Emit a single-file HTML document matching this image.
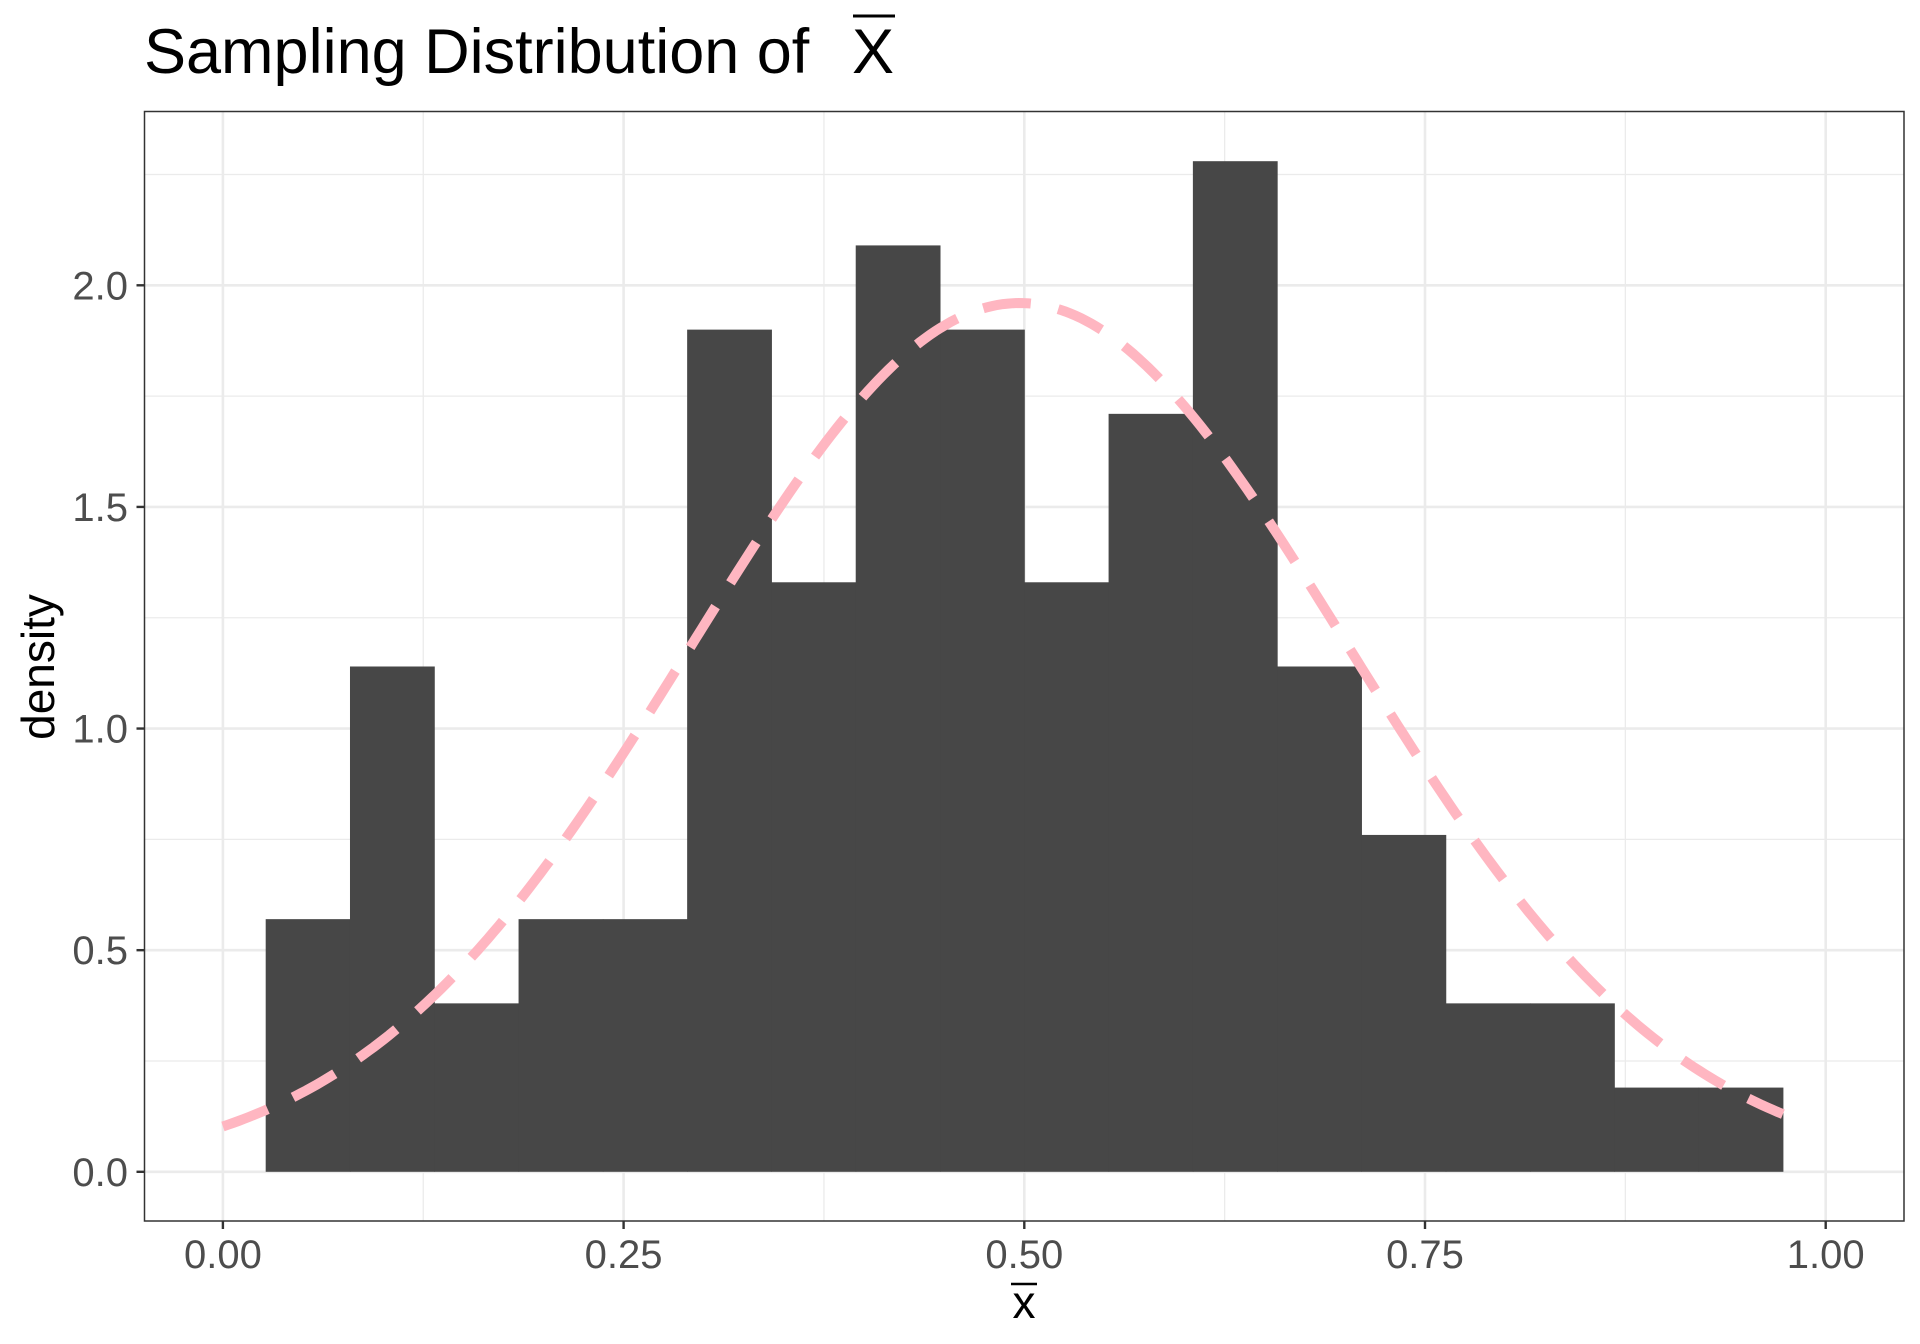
<!DOCTYPE html>
<html><head><meta charset="utf-8"><style>
html,body{margin:0;padding:0;background:#fff;}
svg{display:block;font-family:"Liberation Sans",Arial,sans-serif;}
</style></head><body>
<svg id="s" width="1920" height="1344" viewBox="0 0 1920 1344" xmlns="http://www.w3.org/2000/svg">
<rect width="1920" height="1344" fill="#fff"/>
<g id="grid"></g>
<g id="bars" fill="#474747"></g>
<path id="curve" fill="none" stroke="#FFB6C1" stroke-width="10" stroke-dasharray="48 28"/>
<rect x="144.5" y="111.5" width="1759.5" height="1109.5" fill="none" stroke="#333" stroke-width="1.5"/>
<g id="ticks" stroke="#333" stroke-width="2.4"></g>
<g id="labels" fill="#4D4D4D" font-size="40"></g>
<text x="144" y="73" font-size="63" fill="#000">Sampling Distribution of </text>
<text x="852" y="73" font-size="63" fill="#000">X</text>
<line x1="853" y1="16" x2="895" y2="16" stroke="#000" stroke-width="3"/>
<text x="1024" y="1318" font-size="46" fill="#000" text-anchor="middle">x</text>
<line x1="1011" y1="1284" x2="1037" y2="1284" stroke="#000" stroke-width="2.5"/>
<text transform="translate(54,667) rotate(-90)" font-size="46" fill="#000" text-anchor="middle">density</text>
</svg>
<script>
var X=function(v){return 222.9+v*1602.8;},Y=function(v){return 1171.8-v*443.25;};
var ns="http://www.w3.org/2000/svg";
function el(p,t,a){var e=document.createElementNS(ns,t);for(var k in a)e.setAttribute(k,a[k]);p.appendChild(e);return e;}
var g=document.getElementById("grid");
[0.125,0.375,0.625,0.875].forEach(function(v){el(g,"line",{x1:X(v),x2:X(v),y1:111.5,y2:1221,stroke:"#EBEBEB","stroke-width":1.3});});
[0.25,0.75,1.25,1.75,2.25].forEach(function(v){el(g,"line",{y1:Y(v),y2:Y(v),x1:144.5,x2:1904,stroke:"#EBEBEB","stroke-width":1.3});});
[0,0.25,0.5,0.75,1].forEach(function(v){el(g,"line",{x1:X(v),x2:X(v),y1:111.5,y2:1221,stroke:"#EBEBEB","stroke-width":2.6});});
[0,0.5,1,1.5,2].forEach(function(v){el(g,"line",{y1:Y(v),y2:Y(v),x1:144.5,x2:1904,stroke:"#EBEBEB","stroke-width":2.6});});
var h=[0.57,1.14,0.38,0.57,0.57,1.90,1.33,2.09,1.90,1.33,1.71,2.28,1.14,0.76,0.38,0.38,0.19,0.19];
var b=document.getElementById("bars"),w=(0.9733-0.0267)/18;
h.forEach(function(v,i){var a=X(0.0267+i*w),c=X(0.0267+(i+1)*w);el(b,"rect",{x:a,y:Y(v),width:c-a+0.5,height:Y(0)-Y(v)});});
var d="";for(var i=0;i<=300;i++){var x=0.9733*i/300;var y=1.96*Math.exp(-Math.pow(x-0.497,2)/(2*0.2045*0.2045));d+=(i?"L":"M")+X(x).toFixed(1)+","+Y(y).toFixed(1);}
document.getElementById("curve").setAttribute("d",d);
var t=document.getElementById("ticks"),l=document.getElementById("labels");
["0.00","0.25","0.50","0.75","1.00"].forEach(function(s,i){var x=X(i*0.25);el(t,"line",{x1:x,x2:x,y1:1221,y2:1229});var e=el(l,"text",{x:x,y:1268,"text-anchor":"middle"});e.textContent=s;});
["0.0","0.5","1.0","1.5","2.0"].forEach(function(s,i){var y=Y(i*0.5);el(t,"line",{x1:136.5,x2:144.5,y1:y,y2:y});var e=el(l,"text",{x:128,y:y+14,"text-anchor":"end"});e.textContent=s;});
</script>
</body></html>
